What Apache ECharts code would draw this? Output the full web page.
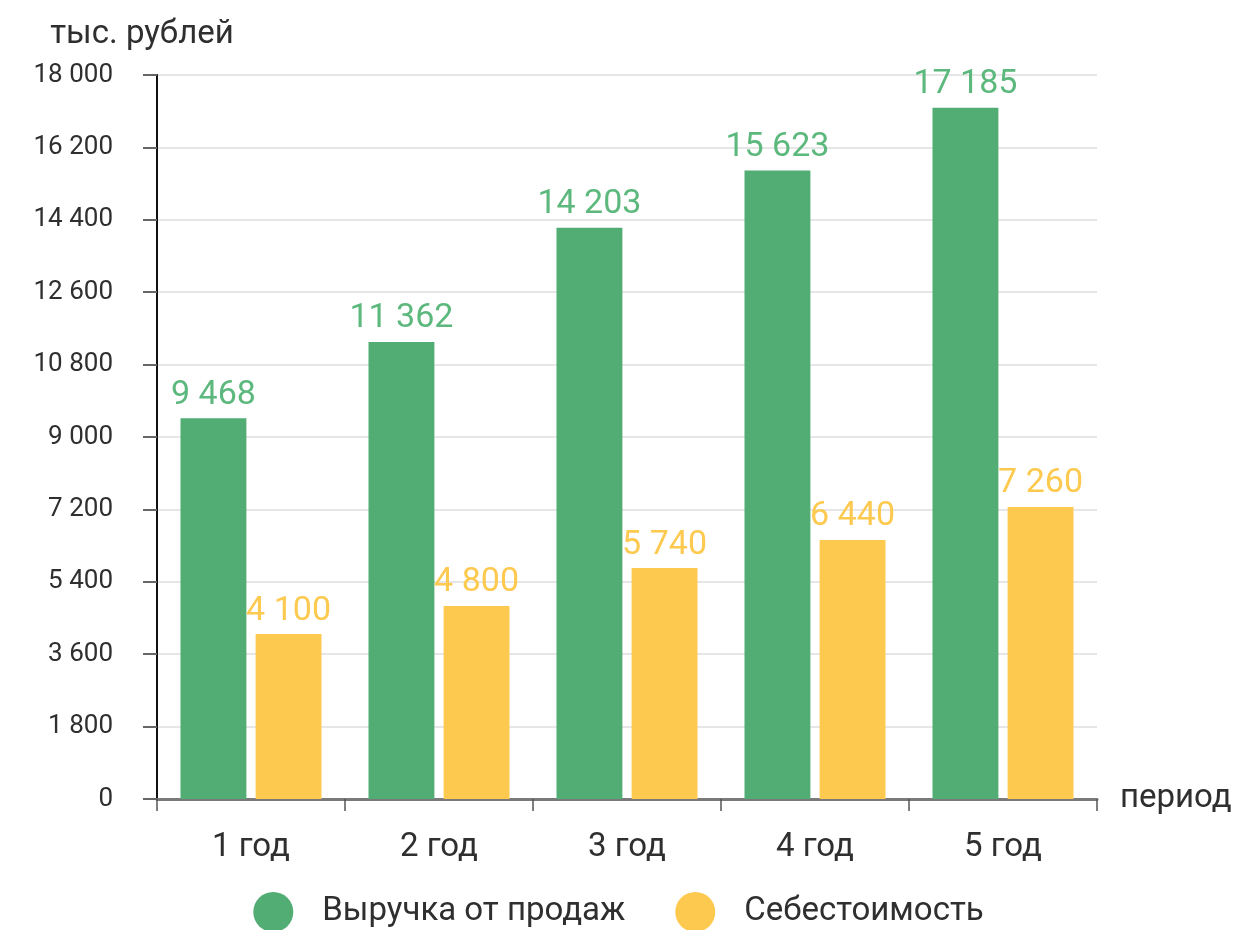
<!DOCTYPE html>
<html>
<head>
<meta charset="utf-8">
<script src="https://cdn.jsdelivr.net/npm/echarts@6/dist/echarts.min.js"></script>
<style>
  html, body { margin: 0; padding: 0; background: #fff; }
  #chart { width: 1237px; height: 930px; }
</style>
</head>
<body>
<div id="chart"></div>
<script>
// Годы и показатели, тыс. рублей
const periods = ['1 год', '2 год', '3 год', '4 год', '5 год'];
const revenue = [9468, 11362, 14203, 15623, 17185];
const cost = [4100, 4800, 5740, 6440, 7260];
const seriesNames = ['Выручка от продаж', 'Себестоимость'];

const FONT = 'Roboto, "Liberation Sans", Arial, sans-serif';
const GREEN = '#52ad74';
const YELLOW = '#fdc94f';
const TEXT = '#2f2f2f';

// разделитель разрядов пробелом: 18000 -> "18 000"
const fmt = v => String(v).replace(/\B(?=(\d{3})+(?!\d))/g, ' ');

const chart = echarts.init(document.getElementById('chart'));
chart.setOption({
  backgroundColor: '#ffffff',
  textStyle: { fontFamily: FONT },
  grid: { left: 157, right: 140, top: 75, bottom: 131 },
  legend: {
    top: 887,
    left: 'center',
    icon: 'circle',
    itemWidth: 40,
    itemHeight: 40,
    itemGap: 50,
    textStyle: { fontSize: 33, color: TEXT, fontFamily: FONT, padding: [0, 0, 0, 24] },
    data: seriesNames
  },
  xAxis: {
    type: 'category',
    data: periods,
    name: 'период',
    nameLocation: 'end',
    nameGap: 23,
    nameTextStyle: { fontSize: 33, color: TEXT, fontFamily: FONT, verticalAlign: 'middle', padding: [8, 0, 0, 0] },
    axisLine: { show: true, lineStyle: { color: '#7a7a7a', width: 3 } },
    axisTick: { show: true, length: 12, lineStyle: { color: '#555', width: 1.5 } },
    axisLabel: { fontSize: 33, color: TEXT, margin: 32, fontFamily: FONT },
    splitLine: { show: false }
  },
  yAxis: {
    type: 'value',
    min: 0,
    max: 18000,
    interval: 1800,
    name: 'тыс. рублей',
    nameLocation: 'end',
    nameGap: 24,
    nameTextStyle: { fontSize: 33, color: TEXT, fontFamily: FONT, align: 'center', padding: [0, 30, 0, 0] },
    axisLine: { show: true, lineStyle: { color: '#111', width: 2 } },
    axisTick: { show: true, length: 14, lineStyle: { color: '#666', width: 2 } },
    axisLabel: { fontSize: 26, color: TEXT, margin: 44, fontFamily: FONT, formatter: fmt },
    splitLine: { show: true, lineStyle: { color: '#e6e6e6', width: 2 } }
  },
  series: [
    {
      name: seriesNames[0],
      type: 'bar',
      data: revenue,
      barGap: '14%',
      barCategoryGap: '25%',
      itemStyle: { color: GREEN },
      label: { show: true, position: 'top', distance: 6, fontSize: 34, color: '#5cb87c', fontFamily: FONT, formatter: p => fmt(p.value) }
    },
    {
      name: seriesNames[1],
      type: 'bar',
      data: cost,
      barGap: '14%',
      barCategoryGap: '25%',
      itemStyle: { color: YELLOW },
      label: { show: true, position: 'top', distance: 6, fontSize: 34, color: '#fdc94f', fontFamily: FONT, formatter: p => fmt(p.value) }
    }
  ]
});
</script>
</body>
</html>
